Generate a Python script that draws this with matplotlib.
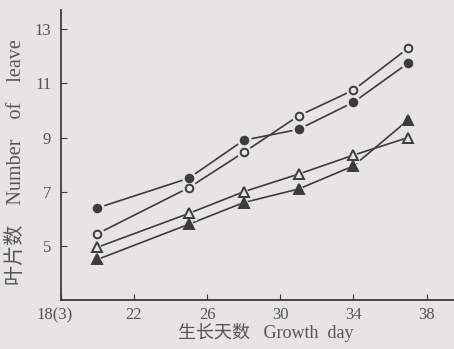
import matplotlib
matplotlib.use("Agg")
import matplotlib.pyplot as plt
import matplotlib.transforms as mtransforms

days = [20, 25, 28, 31, 34, 37]
filled_circle = [6.4, 7.5, 8.9, 9.3, 10.3, 11.75]
open_circle = [5.45, 7.15, 8.45, 9.8, 10.75, 12.3]
open_triangle = [4.95, 6.2, 7.0, 7.65, 8.35, 9.0]
filled_triangle = [4.5, 5.8, 6.6, 7.1, 7.95, 9.65]

xticks = [18, 22, 26, 30, 34, 38]
xticklabels = ["18(3)", "22", "26", "30", "34", "38"]
yticks = [5, 7, 9, 11, 13]

bg = "#e6e5e2"
ink = "#3c3c3c"
txt = "#555555"
fam = ["Liberation Serif", "Noto Sans CJK SC", "DejaVu Sans"]
plt.rcParams["font.family"] = fam

fig = plt.figure(figsize=(4.54, 3.49), dpi=100, facecolor=bg)
ax = fig.add_axes([0.134, 0.14, 0.866, 0.831])
ax.set_facecolor(bg)

series = [
    (filled_circle, "o", True),
    (open_circle, "o", False),
    (open_triangle, "^", False),
    (filled_triangle, "^", True),
]
for vals, mk, filled in series:
    size = 5.5 if mk == "o" else 6.5
    ax.plot(days, vals, color=ink, lw=1.2, zorder=2)
    # halo to leave a small gap between line and marker
    ax.plot(days, vals, ls="none", marker=mk, ms=size + 4, mfc=bg, mec=bg, zorder=3)
    ax.plot(days, vals, ls="none", marker=mk, ms=size,
            mfc=ink if filled else bg, mec=ink, mew=1.4, zorder=4)

ax.set_xlim(18, 39.5)
ax.set_ylim(3, 13.7)
ax.set_xticks(xticks)
ax.set_xticklabels(xticklabels)
ax.set_yticks(yticks)
for s in ["top", "right"]:
    ax.spines[s].set_visible(False)
for s in ["left", "bottom"]:
    ax.spines[s].set_color(ink)
    ax.spines[s].set_linewidth(1.3)
ax.tick_params(direction="in", length=4, color=ink, labelcolor=txt, labelsize=12)
ax.tick_params(axis="x", pad=5)
ax.tick_params(axis="y", pad=7)

first = ax.get_xticklabels()[0]
first.set_transform(first.get_transform() + mtransforms.ScaledTranslation(-6 / 100, 0, fig.dpi_scale_trans))

fig.text(0.585, 0.02, "生长天数   Growth  day", fontsize=13, color=txt, ha="center", va="bottom")
fig.text(0.037, 0.535, "叶片数    Number    of    leave", fontsize=14.5, color=txt,
         ha="center", va="center", rotation=90)

fig.savefig("out.png", dpi=100, facecolor=bg)
